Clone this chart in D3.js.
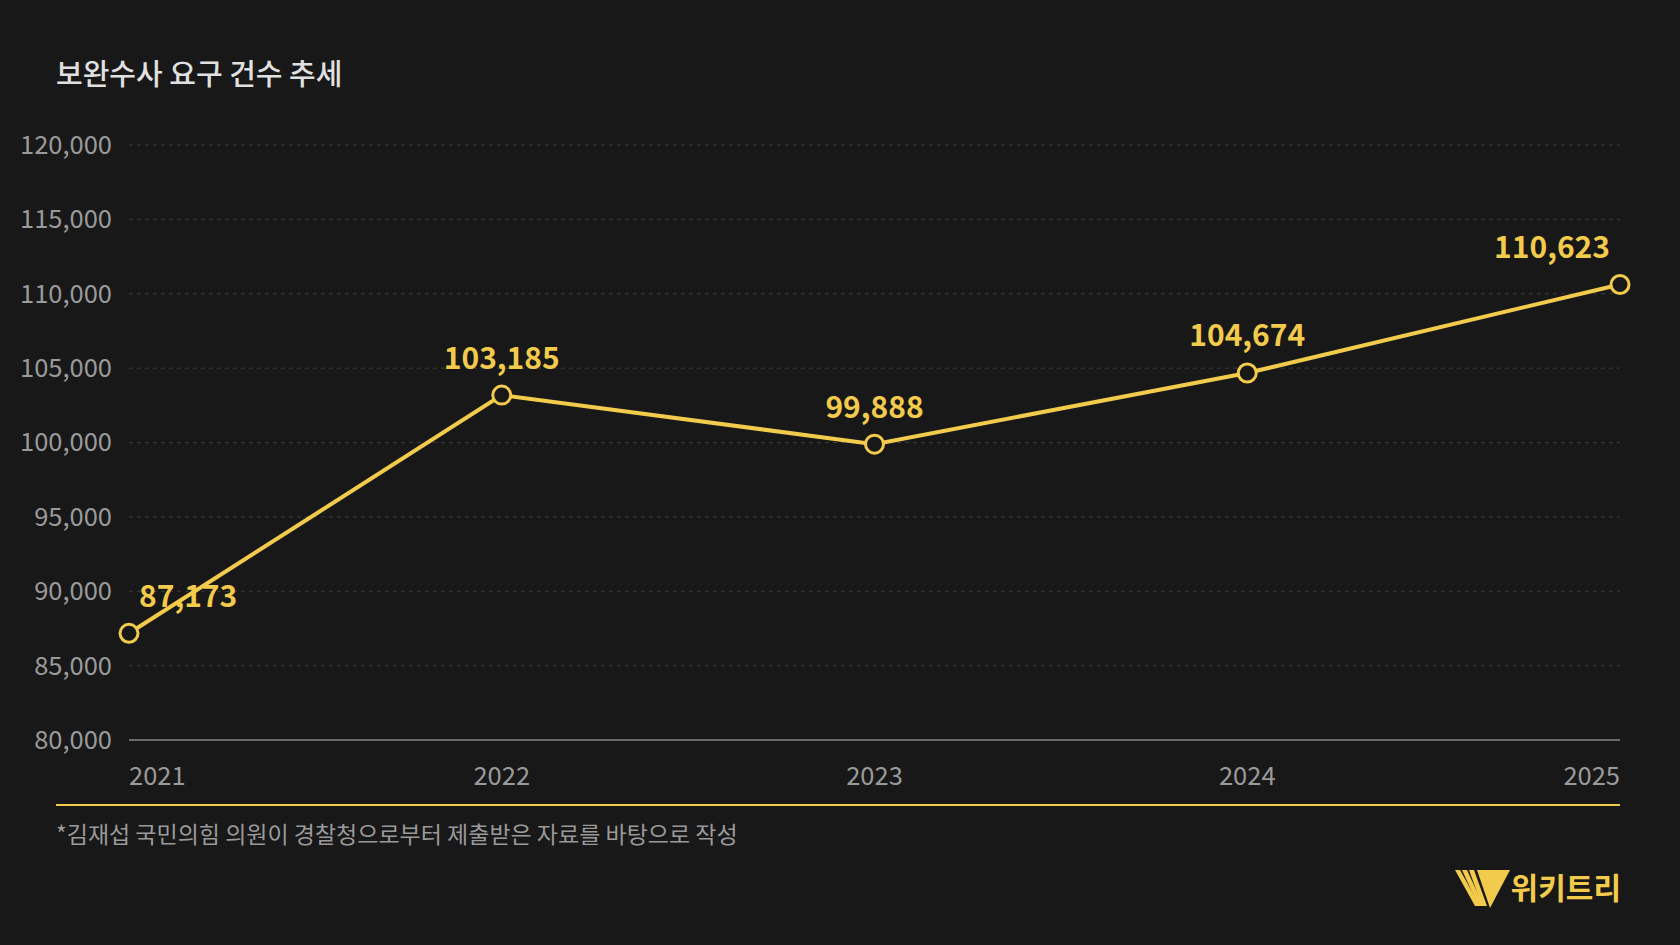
<!DOCTYPE html>
<html>
<head>
<meta charset="utf-8">
<script src="https://cdn.jsdelivr.net/npm/d3@7"></script>
<style>
  html, body { margin: 0; padding: 0; background: #181818; }
  svg { display: block; font-family: "Noto Sans CJK KR", "Noto Sans", sans-serif; }
</style>
</head>
<body>
<div id="chart"></div>
<script>
var years = ['2021', '2022', '2023', '2024', '2025'];
var counts = [87173, 103185, 99888, 104674, 110623];
var yTicks = [80000, 85000, 90000, 95000, 100000, 105000, 110000, 115000, 120000];

var W = 1680, H = 945;
var margin = { left: 129, right: 60, top: 145, bottom: 205 };
var yellow = '#f2cb4c';

var svg = d3.select('#chart').append('svg')
  .attr('width', W)
  .attr('height', H);

svg.append('rect').attr('width', W).attr('height', H).attr('fill', '#181818');

var x = d3.scalePoint().domain(years).range([margin.left, W - margin.right]);
var y = d3.scaleLinear().domain([80000, 120000]).range([H - margin.bottom, margin.top]);

// title
svg.append('text')
  .attr('x', 56).attr('y', 85)
  .attr('fill', '#e0e0e0')
  .attr('font-size', 29)
  .attr('font-weight', 500)
  .text('보완수사 요구 건수 추세');

// grid
svg.append('g').selectAll('line')
  .data(yTicks.slice(1))
  .enter().append('line')
  .attr('x1', margin.left).attr('x2', W - margin.right)
  .attr('y1', function(d) { return y(d); })
  .attr('y2', function(d) { return y(d); })
  .attr('stroke', '#3a3a3a')
  .attr('stroke-dasharray', '4,4');

// baseline
svg.append('line')
  .attr('x1', margin.left).attr('x2', W - margin.right)
  .attr('y1', y(80000)).attr('y2', y(80000))
  .attr('stroke', '#6a6a6a').attr('stroke-width', 2);

// y axis labels
svg.append('g').selectAll('text')
  .data(yTicks)
  .enter().append('text')
  .attr('x', 112)
  .attr('y', function(d) { return y(d); })
  .attr('dy', '0.35em')
  .attr('text-anchor', 'end')
  .attr('fill', '#9a9a9a')
  .attr('font-size', 25.5)
  .text(function(d) { return d3.format(',')(d); });

// x axis labels
svg.append('g').selectAll('text')
  .data(years)
  .enter().append('text')
  .attr('x', function(d) { return x(d); })
  .attr('y', 776)
  .attr('dy', '0.35em')
  .attr('text-anchor', function(d, i) { return i == 0 ? 'start' : (i == years.length - 1 ? 'end' : 'middle'); })
  .attr('fill', '#9a9a9a')
  .attr('font-size', 25.5)
  .text(function(d) { return d; });

// line
var line = d3.line()
  .x(function(d, i) { return x(years[i]); })
  .y(function(d) { return y(d); });

svg.append('path')
  .datum(counts)
  .attr('d', line)
  .attr('fill', 'none')
  .attr('stroke', yellow)
  .attr('stroke-width', 4);

svg.append('g').selectAll('circle')
  .data(counts)
  .enter().append('circle')
  .attr('cx', function(d, i) { return x(years[i]); })
  .attr('cy', function(d) { return y(d); })
  .attr('r', 9)
  .attr('fill', '#181818')
  .attr('stroke', yellow)
  .attr('stroke-width', 3);

// value labels
svg.append('g').selectAll('text')
  .data(counts)
  .enter().append('text')
  .attr('x', function(d, i) {
    var px = x(years[i]);
    if (i == 0) return px + 10;
    if (i == counts.length - 1) return px - 10;
    return px;
  })
  .attr('y', function(d) { return y(d) - 37; })
  .attr('dy', '0.35em')
  .attr('text-anchor', function(d, i) { return i == 0 ? 'start' : (i == counts.length - 1 ? 'end' : 'middle'); })
  .attr('fill', yellow)
  .attr('font-size', 30)
  .attr('font-weight', 700)
  .text(function(d) { return d3.format(',')(d); });

// footer line
svg.append('line')
  .attr('x1', 56).attr('x2', W - margin.right)
  .attr('y1', 805).attr('y2', 805)
  .attr('stroke', yellow).attr('stroke-width', 2);

svg.append('text')
  .attr('x', 56).attr('y', 835)
  .attr('dy', '0.35em')
  .attr('fill', '#9a9a9a')
  .attr('font-size', 23)
  .text('*김재섭 국민의힘 의원이 경찰청으로부터 제출받은 자료를 바탕으로 작성');

// logo
var logo = svg.append('g').attr('fill', yellow);
logo.append('path').attr('d', 'M1477,870 L1510,870 L1490,908 Z');
[0, 7, 14].forEach(function(o) {
  logo.append('path').attr('d',
    'M' + (1455 + o) + ',870 L' + (1460 + o) + ',870 L' + (1480 + o * 0.5) + ',906 L' + (1475 + o * 0.5) + ',906 Z');
});
logo.append('text')
  .attr('x', 1621).attr('y', 888)
  .attr('dy', '0.35em')
  .attr('text-anchor', 'end')
  .attr('font-size', 30)
  .attr('font-weight', 700)
  .text('위키트리');
</script>
</body>
</html>
